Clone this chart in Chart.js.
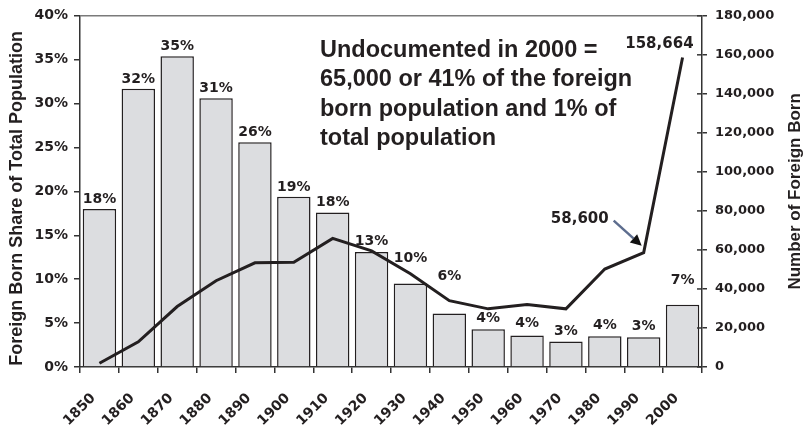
<!DOCTYPE html>
<html><head><meta charset="utf-8">
<script src="https://cdn.jsdelivr.net/npm/chart.js@4"></script>
<style>html,body{margin:0;padding:0;background:#fff;} #wrap{width:805px;height:428px;}</style>
</head><body><div id="wrap"><canvas id="c" width="805" height="428"></canvas></div>
<script>
// ---- data ----
const years = ['1850','1860','1870','1880','1890','1900','1910','1920','1930','1940','1950','1960','1970','1980','1990','2000'];
const foreignShare = [18.0, 31.7, 35.4, 30.6, 25.6, 19.4, 17.6, 13.1, 9.5, 6.1, 4.3, 3.6, 2.9, 3.5, 3.4, 7.1];
const shareLabels = ['18%','32%','35%','31%','26%','19%','18%','13%','10%','6%','4%','4%','3%','4%','3%','7%'];
const foreignBorn = [1900, 12900, 31000, 44200, 53400, 53700, 65900, 59500, 47800, 34000, 29800, 32000, 29800, 50200, 58600, 158664];
const leftTitle = 'Foreign Born Share of Total Population';
const rightTitle = 'Number of Foreign Born';
const noteLines = ['Undocumented in 2000 =', '65,000 or 41% of the foreign', 'born population and 1% of', 'total population'];
const peakLabel = '158,664';
const calloutLabel = '58,600';

// ---- style ----
const INK = '#231f20';
const NUMFONT = 'DejaVu Sans';
const TXTFONT = '"Liberation Sans", Arial, Helvetica, sans-serif';
const labelGap = [6,6,6,6,6,6,6,7,22,33,7,8,7,7,7,21];

const decor = {
  id: 'decor',
  afterDatasetsDraw(chart) {
    const ctx = chart.ctx;
    const bars = chart.getDatasetMeta(0).data;
    ctx.save();
    ctx.fillStyle = INK;
    ctx.font = 'bold 14px ' + NUMFONT;
    ctx.textAlign = 'center';
    ctx.textBaseline = 'alphabetic';
    bars.forEach((b, i) => {
      ctx.fillText(shareLabels[i], b.x, b.y - labelGap[i]);
    });
    ctx.restore();
  },
  afterDraw(chart) {
    const ctx = chart.ctx;
    const a = chart.chartArea;
    const y1 = chart.scales.y1;
    ctx.save();
    // top frame line
    ctx.strokeStyle = '#7a7a7a';
    ctx.lineWidth = 1.5;
    ctx.beginPath(); ctx.moveTo(a.left, a.top); ctx.lineTo(a.right, a.top); ctx.stroke();
    // inner ticks of right axis
    ctx.strokeStyle = '#333';
    y1.ticks.forEach((t, i) => {
      const py = y1.getPixelForTick(i);
      ctx.beginPath(); ctx.moveTo(a.right - 5, py); ctx.lineTo(a.right, py); ctx.stroke();
    });
    // axis titles
    ctx.fillStyle = INK;
    ctx.textAlign = 'center';
    ctx.textBaseline = 'middle';
    ctx.font = 'bold 18px ' + TXTFONT;
    ctx.save(); ctx.translate(17, (a.top + a.bottom) / 2 + 7); ctx.rotate(-Math.PI / 2);
    ctx.fillText(leftTitle, 0, 0); ctx.restore();
    ctx.font = 'bold 17px ' + TXTFONT;
    ctx.save(); ctx.translate(795, (a.top + a.bottom) / 2); ctx.rotate(-Math.PI / 2);
    ctx.fillText(rightTitle, 0, 0); ctx.restore();
    // note
    ctx.font = 'bold 23.5px ' + TXTFONT;
    ctx.textAlign = 'left';
    ctx.textBaseline = 'alphabetic';
    noteLines.forEach((l, i) => ctx.fillText(l, 320, 57 + i * 29.4));
    // point labels
    const pts = chart.getDatasetMeta(1).data;
    const pPeak = pts[pts.length - 1];
    const pCall = pts[pts.length - 2];
    ctx.font = 'bold 15px ' + NUMFONT;
    ctx.textAlign = 'right';
    ctx.fillText(peakLabel, pPeak.x + 11, pPeak.y - 9.5);
    ctx.fillText(calloutLabel, pCall.x - 35, pCall.y - 29.5);
    // arrow
    const sx = pCall.x - 30, sy = pCall.y - 32, ex = pCall.x - 2, ey = pCall.y - 7;
    const ang = Math.atan2(ey - sy, ex - sx);
    const hl = 11, hw = 5.5;
    const bx = ex - hl * Math.cos(ang), by = ey - hl * Math.sin(ang);
    ctx.strokeStyle = '#5d6d8e';
    ctx.lineWidth = 2.5;
    ctx.beginPath(); ctx.moveTo(sx, sy); ctx.lineTo(bx, by); ctx.stroke();
    ctx.fillStyle = '#111';
    ctx.beginPath();
    ctx.moveTo(ex, ey);
    ctx.lineTo(bx + hw * Math.sin(ang), by - hw * Math.cos(ang));
    ctx.lineTo(bx - hw * Math.sin(ang), by + hw * Math.cos(ang));
    ctx.closePath(); ctx.fill();
    ctx.restore();
  }
};

new Chart(document.getElementById('c'), {
  data: {
    labels: years,
    datasets: [
      { type: 'bar', data: foreignShare, yAxisID: 'y', order: 2,
        backgroundColor: '#dcdde0', borderColor: INK, borderWidth: 1.5,
        barPercentage: 0.86, categoryPercentage: 1.0 },
      { type: 'line', data: foreignBorn, yAxisID: 'y1', order: 1,
        borderColor: INK, borderWidth: 3, pointRadius: 0, tension: 0, fill: false }
    ]
  },
  options: {
    responsive: false,
    animation: false,
    layout: { padding: { top: 13, left: 0, right: 0, bottom: 0 } },
    plugins: { legend: { display: false }, tooltip: { enabled: false } },
    scales: {
      x: {
        offset: true,
        grid: { offset: true, display: true, drawOnChartArea: false, drawTicks: true, tickLength: 6, color: '#333', lineWidth: 1.5 },
        border: { display: true, color: '#333', width: 1.5 },
        ticks: { autoSkip: false, maxRotation: 45, minRotation: 45, padding: 17, labelOffset: -6, color: INK,
                 font: { family: NUMFONT, weight: 'bold', size: 14 } },
        afterFit: s => { s.height = 61; }
      },
      y: {
        position: 'left', min: 0, max: 40,
        grid: { drawOnChartArea: false, tickLength: 6, color: '#333', lineWidth: 1.5 },
        border: { display: true, color: '#333', width: 1.5 },
        ticks: { stepSize: 5, padding: 6, color: INK, callback: v => v + '%',
                 font: { family: NUMFONT, weight: 'bold', size: 14 } },
        afterFit: s => { s.width = 80; }
      },
      y1: {
        position: 'right', min: 0, max: 180000,
        grid: { drawOnChartArea: false, tickLength: 5, color: '#333', lineWidth: 1.5 },
        border: { display: true, color: '#333', width: 1.5 },
        ticks: { stepSize: 20000, padding: 8, color: INK, callback: v => v.toLocaleString('en-US'),
                 font: { family: NUMFONT, weight: 'bold', size: 13 } },
        afterFit: s => { s.width = 103; }
      }
    }
  },
  plugins: [decor]
});
</script>
</body></html>
